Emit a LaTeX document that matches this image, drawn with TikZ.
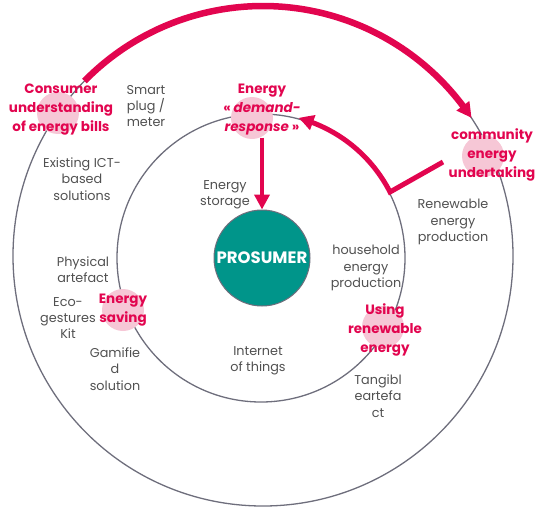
\documentclass[tikz,border=0pt]{standalone}
\usepackage{fontspec}
\setmainfont{Poppins}
\usetikzlibrary{arrows.meta,bending,calc}
\definecolor{redc}{HTML}{E2054F}
\definecolor{pinkc}{HTML}{F6C7D6}
\definecolor{tealc}{HTML}{00958A}
\definecolor{ringc}{HTML}{6E6E7C}
\definecolor{txt}{HTML}{505050}
\tikzset{
  graytxt/.style={font=\fontsize{12.8}{16.3}\selectfont, text=txt, align=center, inner sep=0pt},
  redtxt/.style={font=\fontsize{13.5}{19}\selectfont\bfseries, text=redc, align=center, inner sep=0pt},
  spot/.style={circle, fill=pinkc, minimum size=42pt, inner sep=0pt},
  ring/.style={draw=ringc, line width=1.3pt},
  redarrow/.style={draw=redc, line width=#1, -{Triangle[length=15pt,width=15pt,bend]}},
}
\begin{document}
\begin{tikzpicture}[x=1pt,y=1pt]
\useasboundingbox (0,0) rectangle (535,-506);
% rings
\coordinate (octr) at (263,-256);
\coordinate (ictr) at (261,-258);
\draw[ring] (octr) circle (250);
\draw[ring] (ictr) circle (144);
% highlight spots
\node[spot] (sp1) at (58,-113) {};
\node[spot] (sp2) at (252,-118) {};
\node[spot] (sp3) at (483,-156) {};
\node[spot] (sp4) at (123,-310) {};
\node[spot] (sp5) at (383,-327) {};
% prosumer
\node[circle, fill=tealc, draw=ringc, line width=1pt, minimum size=96pt, inner sep=0pt,
      font=\fontsize{16.5}{18}\selectfont\bfseries, text=white] (prosumer) at (262,-258) {PROSUMER};
% red texts
\node[redtxt] (consumer) at (61,-110) {Consumer\\understanding\\of energy bills};
\node[redtxt] (demand) at (262,-110) {Energy\\« \textit{demand-}\\\textit{response} »};
\node[redtxt] (community) at (492,-155) {community\\energy\\undertaking};
\node[redtxt] (saving) at (123,-310) {Energy\\saving};
\node[redtxt] (using) at (385,-330) {Using\\renewable\\energy};
% gray texts
\node[graytxt] (smart) at (146,-106) {Smart\\plug /\\meter};
\node[graytxt] (ict) at (82,-179) {Existing ICT-\\based\\solutions};
\node[graytxt] (storage) at (225,-195) {Energy\\storage};
\node[graytxt] (renew) at (453,-222) {Renewable\\energy\\production};
\node[graytxt] (household) at (366,-268) {household\\energy\\production};
\node[graytxt] (physical) at (83,-270) {Physical\\artefact};
\node[graytxt] (eco) at (68,-318) {Eco-\\gestures\\Kit};
\node[graytxt] (gamified) at (115,-369) {Gamifie\\d\\solution};
\node[graytxt] (iot) at (258,-361) {Internet\\of things};
\node[graytxt] (tangible) at (378,-396) {Tangibl\\eartefa\\ct};
% arrows
\coordinate (a1s) at ($(octr)+(135.6:250pt)$);
\draw[redarrow=6.5pt] (a1s) arc[start angle=135.6, end angle=33.5, radius=250];
\coordinate (a2s) at (443,-162);
\coordinate (a2k) at (390,-192);
\draw[redarrow=5pt] (a2s) -- (a2k) arc[start angle=27.1, end angle=75, radius=144.9];
\draw[redarrow=4pt] (demand.south -| prosumer.north) ++(0,-2) -- (prosumer.north);
\end{tikzpicture}
\end{document}
